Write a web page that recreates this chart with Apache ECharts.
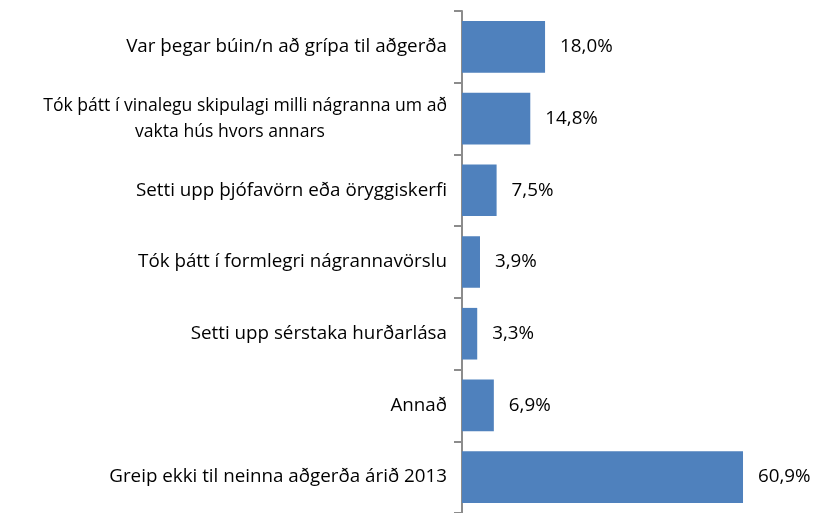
<!DOCTYPE html>
<html><head><meta charset="utf-8">
<script src="https://cdn.jsdelivr.net/npm/echarts@6/dist/echarts.min.js"></script>
<style>html,body{margin:0;padding:0;background:#fff}#c{width:818px;height:513px}</style>
</head><body><div id="c"></div>
<script>
const categories = [
  'Var þegar búin/n að grípa til aðgerða',
  'Tók þátt í vinalegu skipulagi milli nágranna um að\nvakta hús hvors annars',
  'Setti upp þjófavörn eða öryggiskerfi',
  'Tók þátt í formlegri nágrannavörslu',
  'Setti upp sérstaka hurðarlása',
  'Annað',
  'Greip ekki til neinna aðgerða árið 2013'
];
const values = [18.0, 14.8, 7.5, 3.9, 3.3, 6.9, 60.9];

const FS = 18.8;
const FS2 = 17.6;
const chart = echarts.init(document.getElementById('c'), null, {renderer: 'canvas'});
chart.setOption({
  animation: false,
  grid: {left: 462, top: 11, width: 323, height: 507.5, containLabel: false},
  xAxis: {type: 'value', min: 0, max: 70, show: false},
  yAxis: {
    type: 'category', data: categories, inverse: true,
    axisLine: {lineStyle: {color: '#8c8c8c', width: 2}},
    axisTick: {show: true, length: 8, lineStyle: {color: '#8c8c8c', width: 2}},
    axisLabel: {
      margin: 15, color: '#000', fontFamily: 'Open Sans', fontSize: FS, lineHeight: 26,
      formatter: function (v) {
        const parts = v.split('\n');
        if (parts.length === 1) return v;
        return '{a|' + parts[0] + '}\n{b|' + parts[1] + '}';
      },
      rich: {
        a: {fontFamily: 'Open Sans', fontSize: FS2, color: '#000', lineHeight: 26},
        b: {fontFamily: 'Open Sans', fontSize: FS2, color: '#000', lineHeight: 26, padding: [0, 122, 0, 0]}
      }
    }
  },
  series: [{
    type: 'bar', data: values, barCategoryGap: '28%',
    itemStyle: {color: '#4f81bd'},
    label: {
      show: true, position: 'right', distance: 15, color: '#000',
      fontFamily: 'Open Sans', fontSize: FS,
      formatter: p => p.value.toFixed(1).replace('.', ',') + '%'
    }
  }]
});
</script></body></html>
